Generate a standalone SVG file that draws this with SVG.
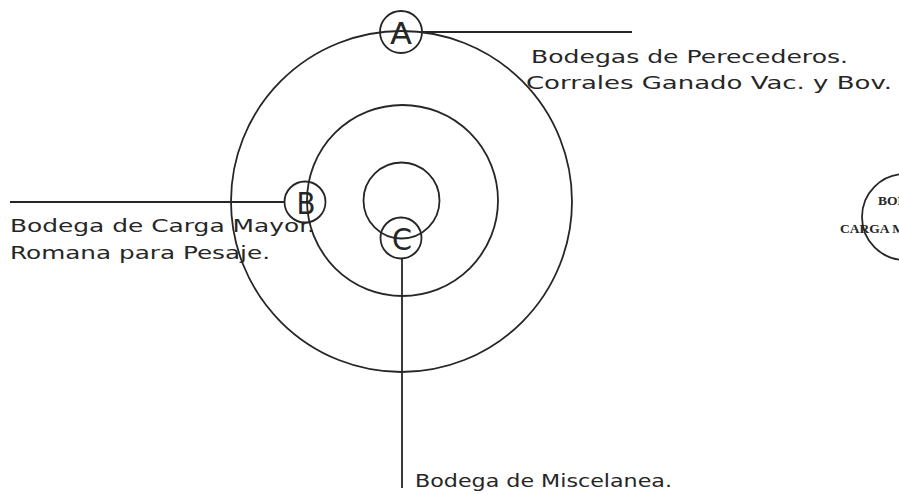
<svg xmlns="http://www.w3.org/2000/svg" width="899" height="494" viewBox="0 0 899 494">
  <style>
    .ln { fill: none; stroke: #262626; stroke-width: 1.8; }
    .lbl { font-family: "DejaVu Sans", "Liberation Sans", sans-serif; font-size: 18px; fill: #262626; }
    .tag { font-family: "DejaVu Sans", "Liberation Sans", sans-serif; font-size: 31px; fill: #262626; text-anchor: middle; }
    .small { font-family: "Liberation Serif", serif; font-size: 13.5px; font-weight: bold; fill: #262626; }
  </style>
  <rect width="899" height="494" fill="#ffffff"/>

  <g id="rings">
    <circle class="ln" cx="401.5" cy="201.5" r="170.5"/>
    <circle class="ln" cx="402.5" cy="200.5" r="95.5"/>
    <circle class="ln" cx="401.5" cy="200.5" r="38"/>
  </g>

  <g id="connectors">
    <line class="ln" x1="422" y1="32" x2="632" y2="32"/>
    <line class="ln" x1="10" y1="202" x2="284" y2="202"/>
    <line class="ln" x1="402" y1="258" x2="402" y2="488"/>
  </g>

  <g id="node-A">
    <circle class="ln" cx="401" cy="32" r="21"/>
    <text class="tag" x="401" y="43.5" textLength="22" lengthAdjust="spacingAndGlyphs">A</text>
  </g>
  <g id="node-B">
    <circle class="ln" cx="305" cy="202" r="20.5"/>
    <text class="tag" x="306" y="213.5" textLength="19" lengthAdjust="spacingAndGlyphs">B</text>
  </g>
  <g id="node-C">
    <circle class="ln" cx="401" cy="238" r="20.5"/>
    <text class="tag" x="402" y="249.5" textLength="20" lengthAdjust="spacingAndGlyphs">C</text>
  </g>

  <g id="label-A">
    <text class="lbl" x="531" y="63" textLength="317" lengthAdjust="spacingAndGlyphs">Bodegas de Perecederos.</text>
    <text class="lbl" x="526" y="89" textLength="366" lengthAdjust="spacingAndGlyphs">Corrales Ganado Vac. y Bov.</text>
  </g>
  <g id="label-B">
    <text class="lbl" x="10" y="232" textLength="305" lengthAdjust="spacingAndGlyphs">Bodega de Carga Mayor.</text>
    <text class="lbl" x="10" y="259" textLength="260" lengthAdjust="spacingAndGlyphs">Romana para Pesaje.</text>
  </g>
  <g id="label-C">
    <text class="lbl" x="415" y="487" textLength="257" lengthAdjust="spacingAndGlyphs">Bodega de Miscelanea.</text>
  </g>

  <g id="node-D">
    <circle class="ln" cx="905" cy="217" r="43"/>
    <text class="small" x="878" y="205">BOD</text>
    <text class="small" x="840" y="233">CARGA M</text>
  </g>
</svg>
